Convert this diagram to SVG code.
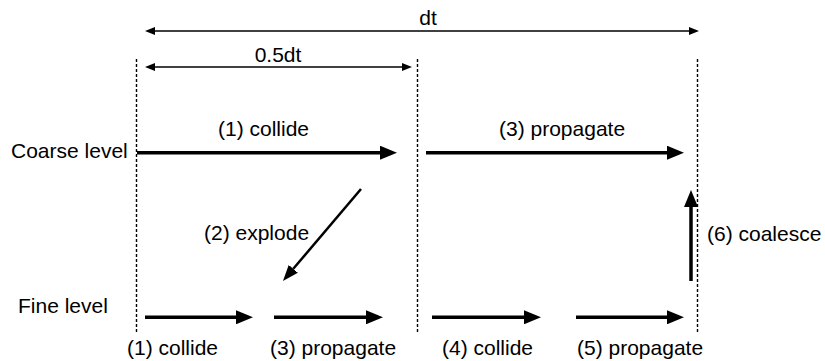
<svg xmlns="http://www.w3.org/2000/svg" width="825" height="361" viewBox="0 0 825 361">
<defs>
<marker id="big" markerUnits="userSpaceOnUse" markerWidth="17" markerHeight="14" refX="0" refY="7" orient="auto-start-reverse"><path d="M0,0 L17,7 L0,14 z" fill="#000"/></marker>
<marker id="mid" markerUnits="userSpaceOnUse" markerWidth="16" markerHeight="12" refX="0" refY="6" orient="auto"><path d="M0,0 L16,6 L0,12 z" fill="#000"/></marker>
<marker id="dim" markerUnits="userSpaceOnUse" markerWidth="10" markerHeight="8" refX="0" refY="4" orient="auto-start-reverse"><path d="M0,0 L10,4 L0,8 z" fill="#000"/></marker>
</defs>
<style>
text{font-family:"Liberation Sans",Arial,sans-serif;font-size:21px;fill:#000}
.dash{stroke:#000;stroke-width:1.4;stroke-dasharray:3,2;fill:none}
.thick{stroke:#000;stroke-width:3.5;fill:none;marker-end:url(#big)}
.dimline{stroke:#000;stroke-width:1.5;fill:none;marker-start:url(#dim);marker-end:url(#dim)}
</style>
<g id="guides">
<line class="dash" x1="136.5" y1="59" x2="136.5" y2="332"/>
<line class="dash" x1="417.5" y1="59" x2="417.5" y2="332"/>
<line class="dash" x1="697.5" y1="59" x2="697.5" y2="332"/>
</g>
<g id="dim-dt">
<line class="dimline" x1="155" y1="31" x2="689" y2="31"/>
<text x="428" y="25" text-anchor="middle">dt</text>
</g>
<g id="dim-half">
<line class="dimline" x1="155" y1="67" x2="402" y2="67"/>
<text x="278" y="62" text-anchor="middle">0.5dt</text>
</g>
<g id="coarse-label"><text x="11" y="158">Coarse level</text></g>
<g id="fine-label"><text x="18" y="313">Fine level</text></g>
<g id="connectors">
<line class="thick" x1="137" y1="152.7" x2="380" y2="152.7"/>
<line class="thick" x1="426" y1="152.7" x2="667" y2="152.7"/>
<line stroke="#000" stroke-width="2.5" x1="361" y1="189" x2="293.3" y2="268.8" marker-end="url(#mid)"/>
<line class="thick" x1="691" y1="281" x2="691" y2="207"/>
<line class="thick" x1="145" y1="317.3" x2="236" y2="317.3"/>
<line class="thick" x1="274" y1="317.3" x2="366" y2="317.3"/>
<line class="thick" x1="432" y1="317.3" x2="524" y2="317.3"/>
<line class="thick" x1="576" y1="317.3" x2="667" y2="317.3"/>
</g>
<g id="coarse-collide"><text x="218" y="136">(1) collide</text></g>
<g id="coarse-propagate"><text x="499" y="136">(3) propagate</text></g>
<g id="explode"><text x="204" y="240">(2) explode</text></g>
<g id="coalesce"><text x="707" y="241">(6) coalesce</text></g>
<g id="fine-collide1"><text x="127" y="355">(1) collide</text></g>
<g id="fine-propagate1"><text x="270" y="355">(3) propagate</text></g>
<g id="fine-collide2"><text x="442" y="355">(4) collide</text></g>
<g id="fine-propagate2"><text x="577" y="355">(5) propagate</text></g>
</svg>
